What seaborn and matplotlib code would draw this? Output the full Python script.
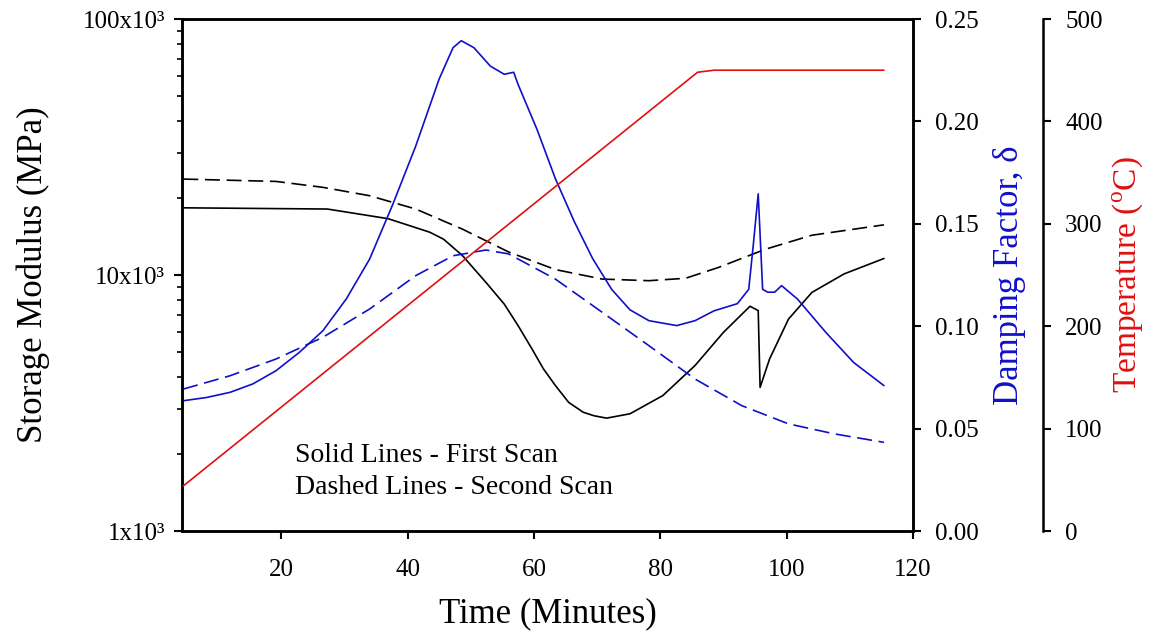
import matplotlib
matplotlib.use("Agg")
import matplotlib.pyplot as plt
import seaborn as sns
import numpy as np
from matplotlib.ticker import FixedLocator, LogLocator, NullFormatter, FixedFormatter

sns.set_theme(style="ticks")
plt.rcParams['font.family'] = ['Liberation Serif', 'DejaVu Serif']
plt.rcParams['mathtext.fontset'] = 'custom'
plt.rcParams['mathtext.rm'] = 'Liberation Serif'
plt.rcParams['text.color'] = 'black'
plt.rcParams['axes.labelcolor'] = 'black'
plt.rcParams['xtick.color'] = 'black'
plt.rcParams['ytick.color'] = 'black'

# ---- data ----
time_temp = [4.5, 85.9, 88.5, 115.4]
temp_c = [44, 448, 450, 450]

time_g1 = [4.5, 27.3, 36.9, 43.5, 45.7, 48.7, 52.4, 55.3, 57.5, 59.7, 61.5, 63.4, 65.5, 67.8,
           69.5, 71.5, 75.2, 80.4, 85.5, 90.0, 94.2, 95.5, 95.8, 97.3, 100.3, 104.0, 109.1, 115.4]
modulus_first = [18.3e3, 18.1e3, 16.6e3, 14.7e3, 13.8e3, 11.9e3, 9.36e3, 7.7e3, 6.34e3, 5.14e3,
                 4.30e3, 3.70e3, 3.18e3, 2.91e3, 2.82e3, 2.76e3, 2.87e3, 3.38e3, 4.43e3, 5.97e3,
                 7.55e3, 7.26e3, 3.64e3, 4.70e3, 6.73e3, 8.55e3, 10.1e3, 11.6e3]

time_g2 = [4.5, 19.2, 26.6, 34.0, 41.3, 48.7, 56.0, 63.4, 70.8, 78.2, 84.0, 89.2, 96.6, 104.0, 115.4]
modulus_second = [23.7e3, 23.2e3, 22.0e3, 20.4e3, 18.1e3, 15.1e3, 12.3e3, 10.5e3, 9.64e3, 9.5e3,
                  9.71e3, 10.7e3, 12.6e3, 14.3e3, 15.7e3]

time_d1 = [4.5, 8.2, 11.9, 15.5, 19.2, 22.9, 26.6, 30.3, 34.0, 37.6, 41.3, 45.0, 47.2, 48.5,
           50.5, 53.1, 55.3, 56.8, 57.5, 60.5, 63.4, 66.4, 69.3, 72.3, 75.2, 78.2, 82.6, 85.5,
           88.5, 92.2, 94.0, 94.7, 95.5, 96.2, 97.0, 98.1, 99.2, 101.7, 106.2, 110.6, 115.4]
damping_first = [0.0636, 0.0652, 0.0677, 0.0718, 0.0783, 0.0873, 0.0978, 0.1133, 0.1328, 0.159,
                 0.188, 0.2207, 0.236, 0.2394, 0.236, 0.227, 0.223, 0.224, 0.218, 0.196, 0.172,
                 0.151, 0.133, 0.118, 0.108, 0.1027, 0.1003, 0.1027, 0.1075, 0.111, 0.118,
                 0.139, 0.1646, 0.118, 0.1166, 0.1166, 0.1198, 0.1133, 0.097, 0.0823, 0.071]

time_d2 = [4.5, 11.9, 19.2, 26.6, 34.0, 41.3, 47.2, 52.4, 56.0, 63.4, 70.8, 78.2, 85.5, 92.9,
           100.3, 107.6, 115.4]
damping_second = [0.0693, 0.0758, 0.084, 0.0946, 0.1084, 0.1247, 0.1344, 0.1372, 0.1353, 0.1230,
                  0.1068, 0.0905, 0.0742, 0.0612, 0.0523, 0.0474, 0.0433]

x_ticks = [20, 40, 60, 80, 100, 120]
mod_ticks = [1e3, 1e4, 1e5]
mod_tick_labels = ["1x10³", "10x10³", "100x10³"]
damp_ticks = [0.00, 0.05, 0.10, 0.15, 0.20, 0.25]
temp_ticks = [0, 100, 200, 300, 400, 500]

BLUE = "#1010C8"
RED = "#E01010"
DASH = (0, (9, 4))

fig = plt.figure(figsize=(11.51, 6.42), dpi=100)
ax = fig.add_axes([182 / 1151, 1 - 531 / 642, (913 - 182) / 1151, (531 - 19) / 642])
ax2 = ax.twinx()
ax3 = ax.twinx()
ax3.spines['right'].set_position(('axes', 1 + 130 / 731))

sns.lineplot(x=time_g1, y=modulus_first, ax=ax, color="black", linewidth=1.2, estimator=None)
sns.lineplot(x=time_g2, y=modulus_second, ax=ax, color="black", linewidth=1.2, linestyle=DASH, estimator=None)
sns.lineplot(x=time_d1, y=damping_first, ax=ax2, color=BLUE, linewidth=1.2, estimator=None)
sns.lineplot(x=time_d2, y=damping_second, ax=ax2, color=BLUE, linewidth=1.2, linestyle=DASH, estimator=None)
sns.lineplot(x=time_temp, y=temp_c, ax=ax3, color=RED, linewidth=1.2, estimator=None)

ax.set_yscale('log')
ax.set_xlim(4.3, 120)
ax.set_ylim(1e3, 1e5)
ax2.set_ylim(0, 0.25)
ax3.set_ylim(0, 500)

ax.xaxis.set_major_locator(FixedLocator(x_ticks))
ax.yaxis.set_major_locator(FixedLocator(mod_ticks))
ax.yaxis.set_major_formatter(FixedFormatter(mod_tick_labels))
ax.yaxis.set_minor_locator(LogLocator(base=10, subs=np.arange(2, 10)))
ax.yaxis.set_minor_formatter(NullFormatter())
ax2.yaxis.set_major_locator(FixedLocator(damp_ticks))
ax2.set_yticklabels([f"{v:.2f}" for v in damp_ticks])
ax3.yaxis.set_major_locator(FixedLocator(temp_ticks))
ax3.set_yticklabels([str(v) for v in temp_ticks])

for a in (ax, ax2, ax3):
    for s in a.spines.values():
        s.set_linewidth(1.8)
        s.set_color("black")
    a.tick_params(which='major', direction='out', length=6, width=1.5, labelsize=18, colors='black', pad=10)
    a.tick_params(which='minor', direction='out', length=3.5, width=1.2)
    a.grid(False)
ax.tick_params(axis='x', pad=14)
ax.tick_params(axis='y', pad=6)
ax3.spines['top'].set_visible(False)
ax3.spines['bottom'].set_visible(False)
ax3.spines['left'].set_visible(False)

ax.set_xlabel("Time (Minutes)", fontsize=25, labelpad=12, color='black')
ax.set_ylabel("Storage Modulus (MPa)", fontsize=25, labelpad=24, color='black')
ax2.set_ylabel("Damping Factor, δ", fontsize=25, color=BLUE, labelpad=10)
ax3.set_ylabel(r"Temperature ($^{\mathrm{o}}$C)", fontsize=24, color=RED, labelpad=5)

ax.text(0.155, 0.147, "Solid Lines - First Scan", transform=ax.transAxes, fontsize=20,
        va='center', ha='left', color='black')
ax.text(0.155, 0.085, "Dashed Lines - Second Scan", transform=ax.transAxes, fontsize=20,
        va='center', ha='left', color='black')

fig.savefig("out.png", dpi=100)
